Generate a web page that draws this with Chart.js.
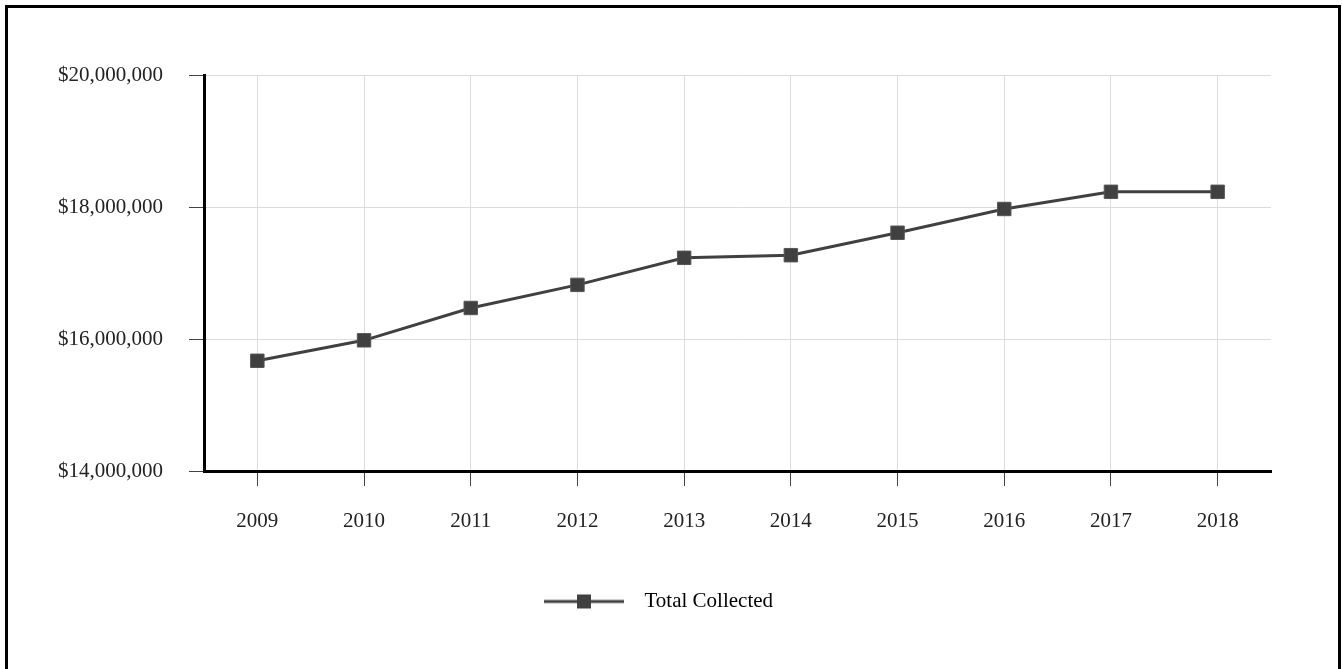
<!DOCTYPE html>
<html>
<head>
<meta charset="utf-8">
<script src="https://cdn.jsdelivr.net/npm/chart.js@4/dist/chart.umd.min.js"></script>
<style>
  html, body { margin: 0; padding: 0; background: #fff; overflow: hidden; }
  #wrap { position: relative; width: 1343px; height: 669px; }
  #frame {
    position: absolute; left: 5px; top: 5px; width: 1330px; height: 700px;
    border: 3px solid #000; border-bottom: none; pointer-events: none;
  }
  canvas { position: absolute; left: 0; top: 0; }
</style>
</head>
<body>
<div id="wrap">
  <canvas id="collected-chart" width="1343" height="669"></canvas>
  <div id="frame"></div>
</div>
<script>
"use strict";

// 年度ごとの徴収額
const years = ["2009", "2010", "2011", "2012", "2013", "2014", "2015", "2016", "2017", "2018"];
const totalCollected = [
  15670000, 15980000, 16470000, 16820000, 17230000,
  17270000, 17610000, 17970000, 18230000, 18230000,
];
const yTicks = [14000000, 16000000, 18000000, 20000000];

const FONT = "'Palatino Linotype', 'Book Antiqua', Palatino, 'Liberation Serif', serif";
const LINE_COLOR = "#404040";

// 凡例用: 線の中央に四角マーカー
function legendMarker() {
  const c = document.createElement("canvas");
  c.width = 90;
  c.height = 16;
  const ctx = c.getContext("2d");
  ctx.strokeStyle = LINE_COLOR;
  ctx.lineWidth = 3;
  ctx.beginPath();
  ctx.moveTo(0, 8);
  ctx.lineTo(80, 8);
  ctx.stroke();
  ctx.fillStyle = LINE_COLOR;
  ctx.fillRect(33, 1, 14, 14);
  return c;
}

const marker = legendMarker();

new Chart(document.getElementById("collected-chart"), {
  type: "line",
  data: {
    labels: years,
    datasets: [
      {
        label: "Total Collected",
        data: totalCollected,
        borderColor: LINE_COLOR,
        borderWidth: 3,
        tension: 0,
        pointStyle: "rect",
        pointRadius: 9.5,
        pointHoverRadius: 9.5,
        pointBackgroundColor: LINE_COLOR,
        pointBorderColor: "#555",
        pointBorderWidth: 1,
      },
    ],
  },
  options: {
    responsive: false,
    animation: false,
    layout: {
      padding: { left: 46, right: 72, top: 75, bottom: 47 },
    },
    scales: {
      x: {
        offset: true,
        grid: {
          color: "#dcdcdc",
          tickColor: "#444",
          tickLength: 15,
          offset: false,
        },
        border: { color: "#000", width: 3 },
        ticks: {
          color: "#222",
          padding: 23,
          font: { family: FONT, size: 21 },
        },
        afterFit: function (scale) {
          scale.height = 110;
        },
      },
      y: {
        min: 14000000,
        max: 20000000,
        grid: {
          color: "#dcdcdc",
          tickColor: "#444",
          tickLength: 15,
        },
        border: { color: "#000", width: 3 },
        afterBuildTicks: function (scale) {
          scale.ticks = yTicks.map((v) => ({ value: v }));
        },
        ticks: {
          color: "#222",
          padding: 26,
          font: { family: FONT, size: 21 },
          callback: function (value) {
            return "$" + Number(value).toLocaleString("en-US");
          },
        },
        afterFit: function (scale) {
          scale.width = 158;
        },
      },
    },
    plugins: {
      legend: {
        position: "bottom",
        labels: {
          color: "#222",
          padding: 10,
          usePointStyle: true,
          pointStyleWidth: 90,
          font: { family: FONT, size: 21 },
          generateLabels: function (chart) {
            return chart.data.datasets.map((ds, i) => ({
              text: ds.label,
              pointStyle: marker,
              fillStyle: LINE_COLOR,
              strokeStyle: LINE_COLOR,
              lineWidth: 0,
              datasetIndex: i,
            }));
          },
        },
      },
      tooltip: { enabled: false },
    },
  },
});
</script>
</body>
</html>
